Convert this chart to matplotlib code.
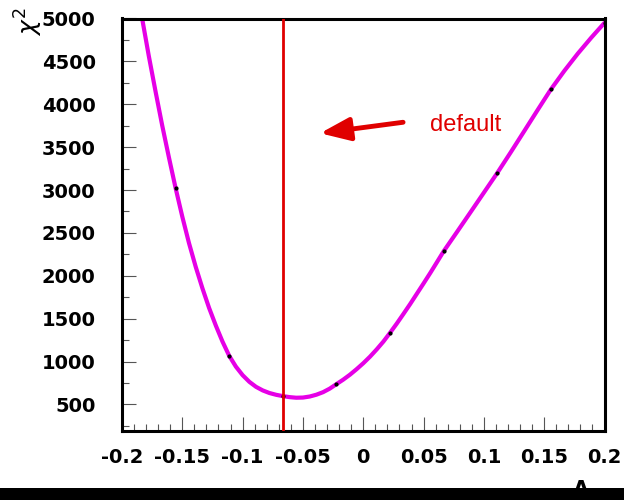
import matplotlib
matplotlib.use("Agg")
import matplotlib.pyplot as plt
from matplotlib.ticker import MultipleLocator
from matplotlib.patches import Rectangle

# chi2 scan points (the small black dots)
scan_A = [-0.2, -0.1556, -0.1111, -0.0667, -0.0222, 0.0222, 0.0667, 0.1111, 0.1556, 0.2]
scan_chi2 = [6400, 3025, 1066, 597, 737, 1335, 2287, 3199, 4175, 4950]

# smooth curve through the scan
curve_A = [-0.1889, -0.1833, -0.1778, -0.1722, -0.1667, -0.1611,
           -0.1556, -0.1500, -0.1445, -0.1389, -0.1333, -0.1278, -0.1222, -0.1167,
           -0.1111, -0.1056, -0.1000, -0.0944, -0.0889, -0.0833, -0.0778, -0.0722,
           -0.0667, -0.0611, -0.0556, -0.0500, -0.0444, -0.0389, -0.0333, -0.0278,
           -0.0222, -0.0167, -0.0111, -0.0056, 0.0000, 0.0056, 0.0111, 0.0167,
           0.0222, 0.0278, 0.0333, 0.0389, 0.0444, 0.0500, 0.0556, 0.0611,
           0.0667, 0.0778, 0.0889, 0.1000, 0.1111, 0.1222, 0.1333, 0.1444,
           0.1556, 0.1667, 0.1778, 0.1889, 0.2000]
curve_chi2 = [5435, 5000, 4565, 4150, 3755, 3380,
              3025, 2689, 2383, 2105, 1853, 1625, 1419, 1233,
              1066, 941, 841, 763, 705, 663, 633, 612,
              597, 585, 578, 580, 592, 613, 643, 684,
              737, 788, 846, 910, 980, 1057, 1141, 1233,
              1335, 1443, 1555, 1671, 1790, 1911, 2034, 2159,
              2287, 2513, 2741, 2970, 3199, 3439, 3684, 3930,
              4175, 4390, 4590, 4775, 4950]

default_A = -0.0667

fig = plt.figure(figsize=(6.24, 5.0), dpi=100)
ax = fig.add_axes([0.1955, 0.138, 0.7733, 0.825])

ax.plot(curve_A, curve_chi2, color="#e600e6", lw=3, zorder=2, solid_capstyle="round")
ax.plot(scan_A, scan_chi2, ls="none", marker="o", ms=2, color="black", zorder=3)
ax.axvline(default_A, color="#e00000", lw=2, zorder=4)

ax.annotate("", xy=(-0.0358, 3662), xytext=(0.033, 3790),
            arrowprops=dict(arrowstyle="-|>,head_length=0.9,head_width=0.35",
                            mutation_scale=20, color="#e00000", lw=3.5,
                            shrinkA=0, shrinkB=0))
ax.text(0.0554, 3760, "default", color="#e00000", fontsize=17,
        family="Liberation Sans", ha="left", va="center")

ax.set_xlim(-0.2, 0.2)
ax.set_ylim(190, 5000)
ax.xaxis.set_minor_locator(MultipleLocator(0.01))
ax.yaxis.set_minor_locator(MultipleLocator(250))
ax.set_xticks([-0.2, -0.15, -0.1, -0.05, 0, 0.05, 0.1, 0.15, 0.2])
ax.set_xticklabels(["-0.2", "-0.15", "-0.1", "-0.05", "0", "0.05", "0.1", "0.15", "0.2"])
ax.set_yticks([500, 1000, 1500, 2000, 2500, 3000, 3500, 4000, 4500, 5000])

ax.tick_params(which="both", direction="in", color="#555555", width=0.8)
ax.tick_params(which="major", length=10)
ax.tick_params(which="minor", length=5)
ax.tick_params(axis="y", pad=19)
ax.tick_params(axis="x", pad=12)
for lab in ax.get_xticklabels() + ax.get_yticklabels():
    lab.set_fontsize(14)
    lab.set_fontweight("bold")
for s in ax.spines.values():
    s.set_linewidth(2.2)

fig.text(29 / 624, 1 - 8 / 500, r"$\chi^2$", rotation=90, fontsize=18,
         ha="center", va="top")
fig.text(585 / 624, 1 - 480 / 500, "A.", fontsize=15, fontweight="bold",
         ha="center", va="top")
fig.patches.append(Rectangle((0, 0), 1, 12 / 500, transform=fig.transFigure,
                             facecolor="black", edgecolor="none", zorder=10))

fig.savefig("out.png", dpi=100)
